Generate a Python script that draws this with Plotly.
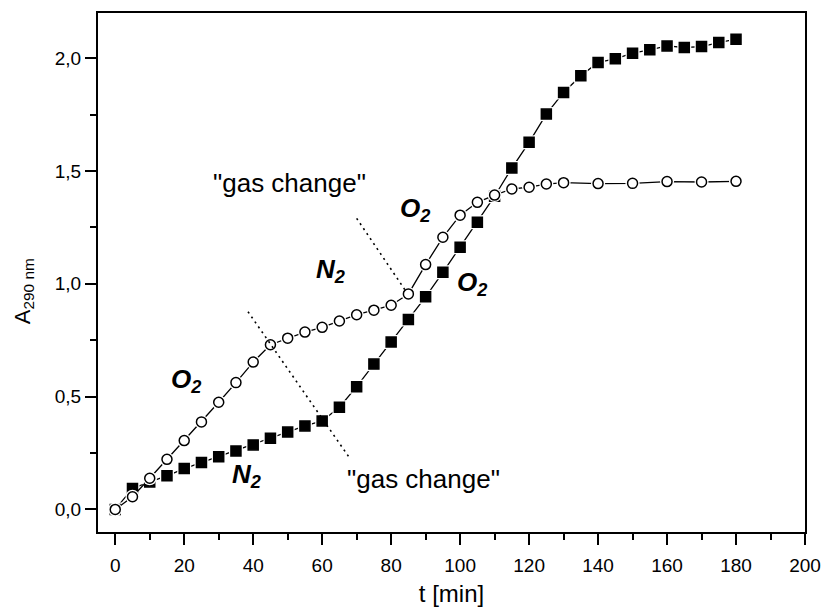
import plotly.graph_objects as go

# ---- data ----
t_circle = [0, 5, 10, 15, 20, 25, 30, 35, 40, 45, 50, 55, 60, 65, 70, 75, 80, 85,
            90, 95, 100, 105, 110, 115, 120, 125, 130, 140, 150, 160, 170, 180]
a_circle = [0.0, 0.056, 0.138, 0.222, 0.305, 0.388, 0.475, 0.562, 0.653, 0.730,
            0.759, 0.786, 0.807, 0.835, 0.863, 0.883, 0.905, 0.955,
            1.085, 1.206, 1.304, 1.361, 1.393, 1.420, 1.428, 1.442, 1.448,
            1.444, 1.445, 1.453, 1.451, 1.454]

t_square = [0, 5, 10, 15, 20, 25, 30, 35, 40, 45, 50, 55, 60, 65, 70, 75, 80, 85, 90,
            95, 100, 105, 110, 115, 120, 125, 130, 135, 140, 145, 150, 155, 160, 165,
            170, 175, 180]
a_square = [0.0, 0.093, 0.122, 0.149, 0.181, 0.208, 0.234, 0.259, 0.286, 0.315, 0.343,
            0.370, 0.392, 0.453, 0.544, 0.644, 0.742, 0.842, 0.942,
            1.051, 1.162, 1.273, 1.388, 1.513, 1.627, 1.752, 1.848, 1.922, 1.981,
            1.997, 2.022, 2.037, 2.054, 2.047, 2.051, 2.069, 2.084]

# "gas change" marker lines
gas1_t = [38.5, 68.0]
gas1_a = [0.876, 0.227]
gas2_t = [70.0, 84.5]
gas2_a = [1.290, 0.962]

# text labels: (t, A, text)
GAS_LABEL = "\"gas change\""
O2 = "<b><i>O</i></b><sub><b><i>2</i></b></sub>"
N2 = "<b><i>N</i></b><sub><b><i>2</i></b></sub>"
label_t = [20.5, 38.0, 62.5, 87.0, 103.5, 50.6, 89.4]
label_a = [0.570, 0.150, 1.058, 1.327, 1.000, 1.448, 0.135]
label_txt = [O2, N2, N2, O2, O2, GAS_LABEL, GAS_LABEL]

x_ticks = [0, 20, 40, 60, 80, 100, 120, 140, 160, 180, 200]
y_ticks = [0.0, 0.5, 1.0, 1.5, 2.0]

FONT = "Arial, Liberation Sans, sans-serif"

fig = go.Figure()

def series(t, a, symbol, fill):
    # connecting line
    fig.add_trace(go.Scatter(x=t, y=a, mode="lines",
                             line=dict(color="black", width=1.3),
                             hoverinfo="skip", showlegend=False))
    # white halo to make the small gaps around the symbols
    fig.add_trace(go.Scatter(x=t, y=a, mode="markers",
                             marker=dict(symbol=symbol, size=14, color="white",
                                         line=dict(width=0)),
                             hoverinfo="skip", showlegend=False))
    # symbols
    fig.add_trace(go.Scatter(x=t, y=a, mode="markers",
                             marker=dict(symbol=symbol, size=10, color=fill,
                                         line=dict(color="black", width=1.5)),
                             showlegend=False))

series(t_square, a_square, "square", "black")
series(t_circle, a_circle, "circle", "white")

for gt, ga in ((gas1_t, gas1_a), (gas2_t, gas2_a)):
    fig.add_trace(go.Scatter(x=gt, y=ga, mode="lines",
                             line=dict(color="black", width=1.6, dash="2px,4px"),
                             hoverinfo="skip", showlegend=False))

for lt, la, tx in zip(label_t, label_a, label_txt):
    fig.add_annotation(x=lt, y=la, text=tx, showarrow=False,
                       font=dict(family=FONT, size=26, color="black"),
                       xanchor="center", yanchor="middle")

# y-axis title (placed like the reference, slightly below the plot centre)
fig.add_annotation(xref="paper", yref="paper", x=0, y=0.464, xshift=-74,
                   text="A<sub>290 nm</sub>", textangle=-90, showarrow=False,
                   font=dict(family=FONT, size=22, color="black"),
                   xanchor="center", yanchor="middle")

fig.update_layout(
    width=824, height=607,
    margin=dict(l=98, r=19, t=13, b=75, autoexpand=False),
    paper_bgcolor="white", plot_bgcolor="white",
    separators=",.",
    font=dict(family=FONT, size=19, color="black"),
    showlegend=False,
)

fig.update_xaxes(
    range=[-5, 200], tickvals=x_ticks, ticks="outside", ticklen=11, tickwidth=1.5,
    tickcolor="black", showline=True, linecolor="black", linewidth=2, mirror=True,
    showgrid=False, zeroline=False, ticklabelstandoff=4, automargin=False,
    minor=dict(dtick=10, tick0=0, ticks="outside", ticklen=6, tickwidth=1.5, tickcolor="black"),
    title=dict(text="t [min]", font=dict(size=24), standoff=10),
    tickfont=dict(size=19),
)
fig.update_yaxes(
    range=[-0.1, 2.2], tickvals=y_ticks, tickformat=".1f", ticks="outside", ticklen=11,
    tickwidth=1.5, tickcolor="black", showline=True, linecolor="black", linewidth=2,
    mirror=True, showgrid=False, zeroline=False, automargin=False,
    minor=dict(dtick=0.25, tick0=0, ticks="outside", ticklen=6, tickwidth=1.5, tickcolor="black"),
    tickfont=dict(size=19),
)

fig.write_html("out.html")
